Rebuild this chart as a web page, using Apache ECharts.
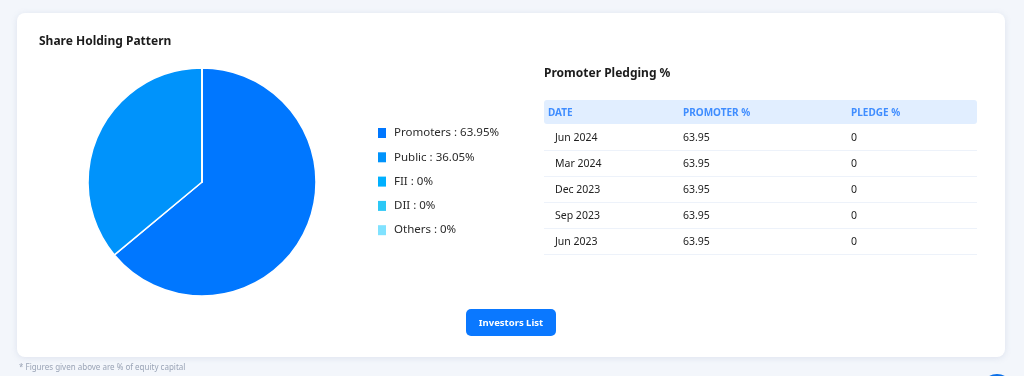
<!DOCTYPE html>
<html>
<head>
<meta charset="utf-8">
<script src="https://cdn.jsdelivr.net/npm/echarts@6/dist/echarts.min.js"></script>
<style>
html,body{margin:0;padding:0;background:#f3f6fb;}
#c{width:1024px;height:376px;}
</style>
</head>
<body>
<div id="c"></div>
<script>
// ---- data ----
const holdingNames = ['Promoters', 'Public', 'FII', 'DII', 'Others'];
const holdingValues = [63.95, 36.05, 0, 0, 0];
const holdingColors = ['#0077ff', '#0093fb', '#00b0ff', '#2cc8f6', '#80e2ff'];

const tableHeaders = ['DATE', 'PROMOTER %', 'PLEDGE %'];
const pledgeDates = ['Jun 2024', 'Mar 2024', 'Dec 2023', 'Sep 2023', 'Jun 2023'];
const promoterPct = ['63.95', '63.95', '63.95', '63.95', '63.95'];
const pledgePct = ['0', '0', '0', '0', '0'];

const FONT = '"Noto Sans", "Open Sans", sans-serif';

const chart = echarts.init(document.getElementById('c'), null, {renderer: 'canvas'});

const graphics = [];
// card
graphics.push({
  type: 'rect', z: -10, silent: true,
  shape: {x: 17, y: 13, width: 988, height: 344, r: 8},
  style: {fill: '#ffffff', shadowBlur: 6, shadowColor: 'rgba(120,140,180,0.18)', shadowOffsetY: 1}
});
// titles
graphics.push({type: 'text', x: 39, y: 42, style: {text: 'Share Holding Pattern', font: 'bold 12px ' + FONT, fill: '#1c1c1c', verticalAlign: 'middle'}});
graphics.push({type: 'text', x: 544, y: 74, style: {text: 'Promoter Pledging %', font: 'bold 12px ' + FONT, fill: '#1c1c1c', verticalAlign: 'middle'}});

// table
const tX = 544, tW = 433;
const colX = [548, 683, 851];
graphics.push({type: 'rect', shape: {x: tX, y: 100, width: tW, height: 24, r: 3}, style: {fill: '#e1eeff'}});
tableHeaders.forEach((h, i) => {
  graphics.push({type: 'text', x: colX[i], y: 113, style: {text: h, font: 'bold 10px ' + FONT, fill: '#3f8dff', verticalAlign: 'middle'}});
});
pledgeDates.forEach((d, r) => {
  const cy = 138 + r * 26;
  const cells = [d, promoterPct[r], pledgePct[r]];
  const xs = [555, colX[1], colX[2]];
  cells.forEach((t, i) => {
    graphics.push({type: 'text', x: xs[i], y: cy, style: {text: t, font: '10.5px ' + FONT, fill: '#222', verticalAlign: 'middle'}});
  });
  graphics.push({type: 'rect', shape: {x: tX, y: cy + 12, width: tW, height: 1}, style: {fill: '#edf2fa'}});
});

// button
graphics.push({type: 'rect', shape: {x: 466, y: 309, width: 90, height: 27, r: 5}, style: {fill: '#0a78ff'}});
graphics.push({type: 'text', x: 511, y: 323, style: {text: 'Investors List', font: 'bold 9.5px ' + FONT, fill: '#ffffff', align: 'center', verticalAlign: 'middle'}});

// footnote
graphics.push({type: 'text', x: 19, y: 368, style: {text: '* Figures given above are % of equity capital', font: '8px ' + FONT, fill: '#9aa4b6', verticalAlign: 'middle'}});
// corner blue circle
graphics.push({type: 'circle', shape: {cx: 997, cy: 390, r: 16}, style: {fill: '#0a6fe8'}});

const legendMap = {};
holdingNames.forEach((n, i) => legendMap[n] = holdingValues[i]);

chart.setOption({
  animation: false,
  textStyle: {fontFamily: FONT},
  color: holdingColors,
  graphic: graphics,
  legend: {
    orient: 'vertical',
    left: 378, top: 126,
    padding: 0,
    icon: 'rect',
    itemWidth: 8, itemHeight: 10,
    itemGap: 10.3,
    itemStyle: {borderWidth: 0},
    data: holdingNames,
    textStyle: {fontSize: 11.5, color: '#2a2a2a', lineHeight: 14, fontFamily: FONT, padding: [0, 0, 0, 3]},
    formatter: n => n + ' : ' + legendMap[n] + '%',
    selectedMode: false
  },
  series: [{
    type: 'pie',
    center: [202, 182],
    radius: [0, 114],
    startAngle: 90,
    clockwise: true,
    label: {show: false},
    labelLine: {show: false},
    emphasis: {disabled: true},
    itemStyle: {borderColor: '#ffffff', borderWidth: 1.5},
    data: holdingNames.map((n, i) => ({name: n, value: holdingValues[i]}))
  }]
});
</script>
</body>
</html>
